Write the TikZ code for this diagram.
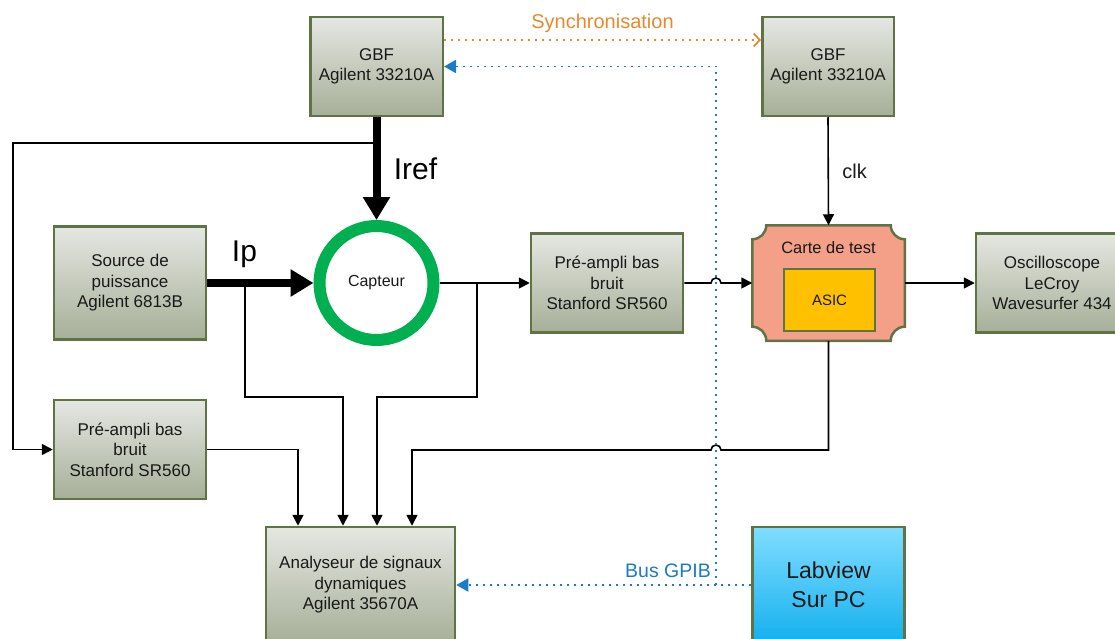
\documentclass[tikz,border=0pt]{standalone}
\usepackage{fontspec}
\setmainfont{Liberation Sans}
\usetikzlibrary{arrows.meta,backgrounds}
\definecolor{olive}{RGB}{95,115,68}
\definecolor{boxtop}{RGB}{229,231,226}
\definecolor{boxbot}{RGB}{166,175,152}
\definecolor{sky}{RGB}{128,221,255}
\definecolor{skydeep}{RGB}{20,176,238}
\definecolor{salmon}{RGB}{244,160,136}
\definecolor{asicgold}{RGB}{255,192,0}
\definecolor{sensor}{RGB}{0,176,80}
\definecolor{syncorange}{RGB}{232,137,44}
\definecolor{gpibblue}{RGB}{26,123,198}
\definecolor{ink}{RGB}{25,25,25}
\tikzset{
  box/.style={draw=olive,line width=2.5pt,top color=boxtop,bottom color=boxbot,
    minimum width=152pt,minimum height=99pt,align=center,text=ink,
    font=\fontsize{17}{20.5}\selectfont},
  pcbox/.style={box,top color=sky,bottom color=skydeep,
    font=\fontsize{23}{29}\selectfont},
  sensorring/.style={circle,draw=sensor,line width=12pt,fill=white,minimum size=114pt,
    text=ink,font=\fontsize{16}{19}\selectfont},
  carte/.style={minimum width=152.5pt,minimum height=115.5pt,outer sep=0pt},
  chip/.style={draw=olive,line width=2.5pt,fill=asicgold,minimum width=91pt,
    minimum height=62pt,text=ink,font=\fontsize{15}{18}\selectfont},
  tag/.style={text=ink,font=\fontsize{16.5}{20}\selectfont},
  big tag/.style={text=black,font=\fontsize{30}{34}\selectfont},
  flow/.style={line width=1.6pt,-{Triangle[length=11pt,width=11pt]}},
  current/.style={line width=8pt,-{Triangle[length=23pt,width=26pt]}},
  sync/.style={draw=syncorange,line width=1.8pt,dash pattern=on 1.8pt off 5.2pt,
    -{Straight Barb[length=6pt,width=13pt,line width=1.8pt]}},
  gpib/.style={draw=gpibblue,line width=1.8pt,dash pattern=on 1.8pt off 5.2pt,
    -{Triangle[length=12pt,width=13pt]}},
}
\begin{document}
\begin{tikzpicture}[x=1pt,y=1pt]
\useasboundingbox (0,0) rectangle (1115,-639);

% instruments
\node[box,minimum width=132.5pt] (gbf1) at (376.5,-66.5) {GBF\\Agilent 33210A};
\node[box,minimum width=131.5pt] (gbf2) at (828,-66.5) {GBF\\Agilent 33210A};
\node[box,minimum height=113pt] (source) at (130,-283) {Source de\\puissance\\Agilent 6813B};
\node[sensorring] (capteur) at (376.5,-283) {Capteur};
\node[box] (pre1) at (607,-283) {Pré-ampli bas\\bruit\\Stanford SR560};
\node[carte] (carte) at (828.5,-283) {};
\node[tag] (cartetitle) at (828.5,-248) {Carte de test};
\node[chip] (asic) at (829.5,-300) {ASIC};
\node[box] (osc) at (1052,-283) {Oscilloscope\\LeCroy\\Wavesurfer 434};
\node[box] (pre2) at (130,-449.5) {Pré-ampli bas\\bruit\\Stanford SR560};
\node[box,minimum width=189pt,minimum height=116pt] (analyseur) at (360.5,-585)
  {Analyseur de signaux\\dynamiques\\Agilent 35670A};
\node[pcbox,minimum height=116pt] (labview) at (828.5,-585) {Labview\\Sur PC};

% test board outline
\begin{scope}[on background layer]
  \draw[draw=olive,line width=2.5pt,fill=salmon]
    ([xshift=14pt]carte.north west) -- ([xshift=-14pt]carte.north east)
    arc[start angle=180,end angle=270,radius=14pt]
    -- ([yshift=14pt]carte.south east)
    arc[start angle=90,end angle=180,radius=14pt]
    -- ([xshift=14pt]carte.south west)
    arc[start angle=0,end angle=90,radius=14pt]
    -- ([yshift=-14pt]carte.north west)
    arc[start angle=270,end angle=360,radius=14pt] -- cycle;
\end{scope}

% helper points
\coordinate (irefsplit) at (376.5,-143);
\coordinate (leftrail) at (13,-143);
\coordinate (iptap) at (245,-283);
\coordinate (captap) at (477,-283);
\coordinate (lowrail) at (0,-397);
\coordinate (hopa) at (711,-283);
\coordinate (hopb) at (721,-450);
\coordinate (busfoot) at (716,-585);
\coordinate (inA) at ([xshift=-62.5pt]analyseur.north);
\coordinate (inB) at ([xshift=-17.5pt]analyseur.north);
\coordinate (inC) at ([xshift=16.5pt]analyseur.north);
\coordinate (inD) at ([xshift=51.5pt]analyseur.north);

% currents
\draw[current] (gbf1.south) -- node[big tag,right=10pt] (ireflabel) {Iref} (capteur.north);
\draw[current] (source.east) -- node[big tag,pos=0.35,above=8pt] (iplabel) {Ip} (capteur.west);

% signal paths
\draw[flow] (irefsplit) -- (leftrail) |- (pre2.west);
\draw[flow] (capteur.east) -- (pre1.west);
\draw[flow] (pre1.east) -- (hopa) arc[start angle=180,end angle=0,radius=5pt] -- (carte.west);
\draw[flow] (carte.east) -- (osc.west);
\draw[flow] (gbf2.south) -- node[tag,font=\fontsize{20}{24}\selectfont,right=10pt] (clklabel) {clk} (carte.north);
\draw[flow] (pre2.east) -| (inA);
\draw[flow] (iptap) -- (iptap |- lowrail) -| (inB);
\draw[flow] (captap) -- (captap |- lowrail) -| (inC);
\draw[flow] (carte.south) |- (hopb) arc[start angle=0,end angle=180,radius=5pt] -| (inD);

% synchronisation and GPIB bus
\draw[sync] ([yshift=26.5pt]gbf1.east) -- node[above=3pt,text=syncorange,font=\fontsize{20}{24}\selectfont] (synclabel) {Synchronisation} ([yshift=26.5pt]gbf2.west);
\draw[gpib] (labview.west) -- (analyseur.east);
\draw[gpib] (busfoot) |- (gbf1.east);
\node[anchor=base east,inner sep=0pt,text=gpibblue,font=\fontsize{19.5}{23}\selectfont] (buslabel) at (711,-577) {Bus GPIB};
\end{tikzpicture}
\end{document}
